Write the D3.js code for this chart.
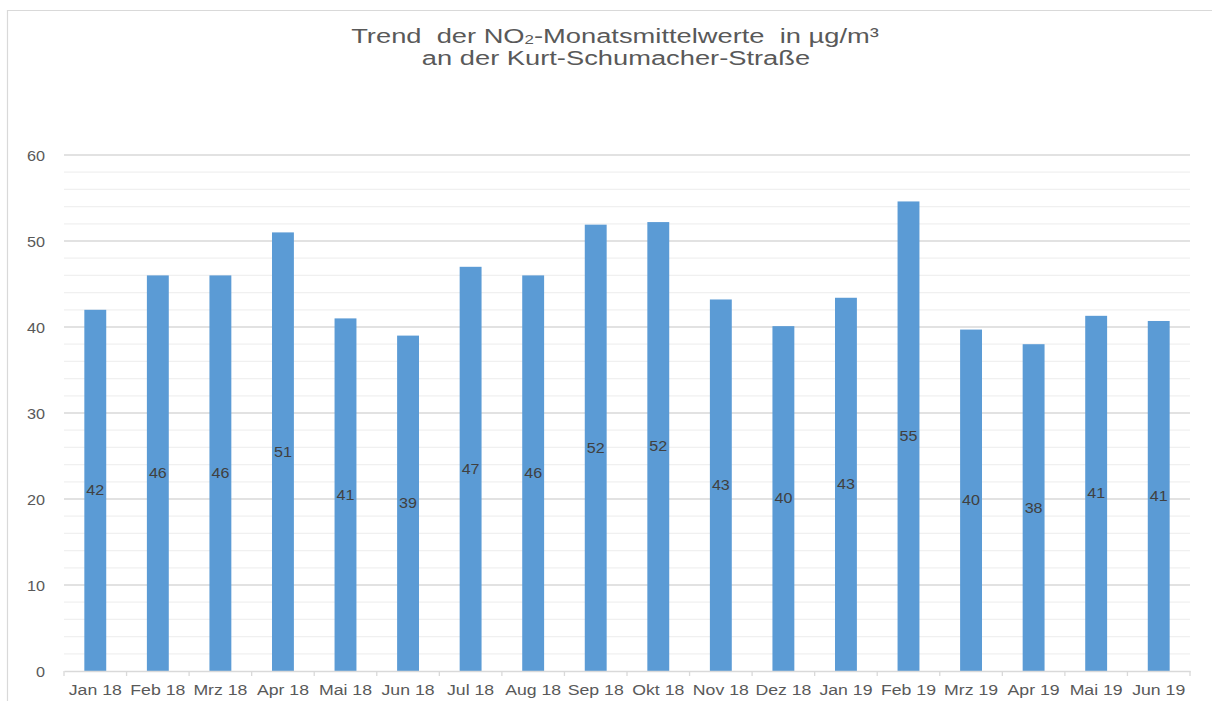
<!DOCTYPE html>
<html><head><meta charset="utf-8">
<script src="https://cdn.jsdelivr.net/npm/d3@7"></script>
<style>
html,body{margin:0;padding:0;background:#fff;}
svg{display:block;}
text{font-family:"Liberation Sans",Arial,sans-serif;}
</style></head>
<body>
<svg id="chart" width="1212" height="701"></svg>
<script>
const categories = ["Jan 18","Feb 18","Mrz 18","Apr 18","Mai 18","Jun 18","Jul 18","Aug 18","Sep 18","Okt 18","Nov 18","Dez 18","Jan 19","Feb 19","Mrz 19","Apr 19","Mai 19","Jun 19"];
const values = [42.0,46.0,46.0,51.0,41.0,39.0,47.0,46.0,51.9,52.2,43.2,40.1,43.4,54.6,39.7,38.0,41.3,40.7];
const yTicks = [0,10,20,30,40,50,60];
const titleLine1 = ["Trend  der NO", "2", "-Monatsmittelwerte  in µg/m³"];
const titleLine2 = "an der Kurt-Schumacher-Straße";

const svg = d3.select("#chart");
const W = 1212, H = 701;
const m = {left:64, right:22, top:155, bottom:30};

// outer border (partially visible)
svg.append("path").attr("d","M7.5,"+(H+2)+"V10.5H"+(W+2))
  .attr("fill","none").attr("stroke","#d9d9d9").attr("stroke-width",1.2);

const x = d3.scaleBand().domain(categories).range([m.left, W-m.right]).paddingInner(0.65).paddingOuter(0.325);
const y = d3.scaleLinear().domain([0,60]).range([H-m.bottom, m.top]);

// minor gridlines
const minor = d3.range(0,61,2).filter(v=>v%10!==0);
svg.append("g").selectAll("line").data(minor).join("line")
  .attr("x1",m.left).attr("x2",W-m.right)
  .attr("y1",d=>y(d)).attr("y2",d=>y(d))
  .attr("stroke","#f0f0f0").attr("stroke-width",1.3);
// major gridlines
svg.append("g").selectAll("line").data(yTicks.filter(v=>v>0)).join("line")
  .attr("x1",m.left).attr("x2",W-m.right)
  .attr("y1",d=>y(d)).attr("y2",d=>y(d))
  .attr("stroke","#d9d9d9").attr("stroke-width",1.3);

// y axis labels
const yAxis = d3.axisLeft(y).tickValues(yTicks).tickSize(0).tickPadding(0);
const gy = svg.append("g").attr("transform","translate(45,0)").call(yAxis);
gy.select(".domain").remove();
gy.selectAll("text").attr("fill","#595959").attr("font-size","15px")
  .attr("font-family","'DejaVu Sans',sans-serif").attr("dy","0.35em")
  .attr("transform","scale(1.08,1)").attr("x",0);

// bars
svg.append("g").selectAll("rect").data(values).join("rect")
  .attr("x",(d,i)=>x(categories[i]))
  .attr("width",x.bandwidth())
  .attr("y",d=>y(d))
  .attr("height",d=>y(0)-y(d))
  .attr("fill","#5b9bd5");

// x axis
const xAxis = d3.axisBottom(x).tickSize(0).tickPadding(0);
const gx = svg.append("g").attr("transform",`translate(0,${y(0)})`).call(xAxis);
gx.select(".domain").attr("stroke","#d9d9d9").attr("stroke-width",1.3);
gx.selectAll(".tick text").remove();
// boundary ticks
const bounds = categories.map(c=>x(c)-x.step()*x.paddingInner()/2);
bounds.push(W-m.right);
gx.selectAll("line.bnd").data(bounds).join("line").attr("class","bnd")
  .attr("x1",d=>d).attr("x2",d=>d).attr("y1",0).attr("y2",5)
  .attr("stroke","#d9d9d9").attr("stroke-width",1.3);
// x labels (horizontally stretched like the original)
svg.append("g").selectAll("text").data(categories).join("text")
  .attr("transform",d=>`translate(${x(d)+x.bandwidth()/2},695) scale(1.22,1)`)
  .attr("text-anchor","middle").attr("font-size","14.5px")
  .attr("font-family","'DejaVu Sans',sans-serif")
  .attr("fill","#595959").text(d=>d);

// value labels at bar middle
const fmt = d3.format(".0f");
svg.append("g").selectAll("text").data(values).join("text")
  .attr("transform",(d,i)=>`translate(${x(categories[i])+x.bandwidth()/2},${y(d/2)}) scale(1.15,1)`)
  .attr("text-anchor","middle").attr("dy","0.35em")
  .attr("font-size","14px").attr("font-family","'DejaVu Sans',sans-serif")
  .attr("fill","#404040").text(d=>fmt(d));

// title
const t1 = svg.append("text").attr("text-anchor","middle")
  .attr("transform","translate(615,43) scale(1.3,1)")
  .attr("font-size","21px").attr("fill","#595959").style("white-space","pre");
t1.append("tspan").text(titleLine1[0]);
t1.append("tspan").attr("font-size","13px").attr("dy","1").text(titleLine1[1]);
t1.append("tspan").attr("dy","-1").text(titleLine1[2]);
svg.append("text").attr("text-anchor","middle")
  .attr("transform","translate(616,65) scale(1.3,1)")
  .attr("font-size","21px").attr("fill","#595959").text(titleLine2);
</script>
</body></html>
